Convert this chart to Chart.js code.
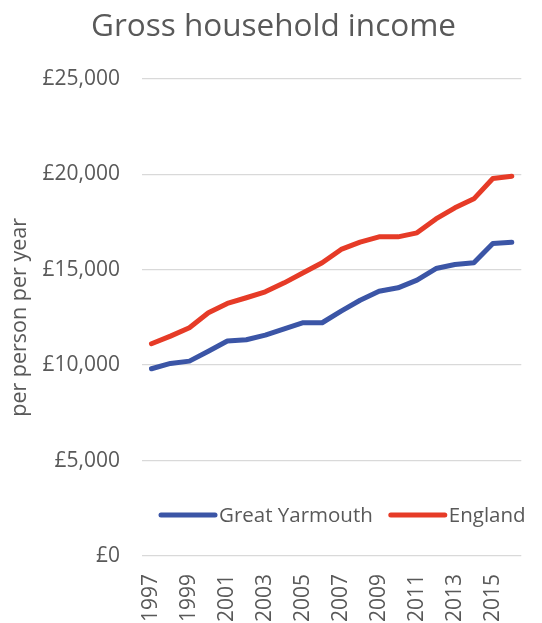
<!DOCTYPE html>
<html>
<head>
<meta charset="utf-8">
<script src="https://cdn.jsdelivr.net/npm/chart.js@4"></script>
<style>
  html, body { margin: 0; padding: 0; background: #fff; overflow: hidden; }
  #wrap { width: 547px; height: 623px; }
</style>
</head>
<body>
<div id="wrap"><canvas id="incomeChart"></canvas></div>
<script>
var years = ['1997', '1998', '1999', '2000', '2001', '2002', '2003', '2004', '2005', '2006',
             '2007', '2008', '2009', '2010', '2011', '2012', '2013', '2014', '2015', '2016'];
var greatYarmouth = [9810, 10090, 10210, 10730, 11260, 11330, 11570, 11900, 12220, 12220,
                     12830, 13400, 13870, 14050, 14450, 15060, 15270, 15360, 16370, 16440];
var england = [11120, 11520, 11960, 12740, 13230, 13530, 13840, 14310, 14840, 15360,
               16060, 16440, 16720, 16720, 16930, 17660, 18240, 18710, 19780, 19900];
var seriesNames = ['Great Yarmouth', 'England'];

var textColor = '#595959';
var fontFamily = "'Open Sans', sans-serif";

// legend sits inside the plot, like the Excel original
var insideLegend = {
    id: 'insideLegend',
    afterDraw: function(chart) {
        var c = chart.ctx;
        var x = 161, y = 515;
        c.save();
        c.font = '20.5px ' + fontFamily;
        c.textBaseline = 'middle';
        c.fillStyle = textColor;
        chart.data.datasets.forEach(function(ds) {
            c.strokeStyle = ds.borderColor;
            c.lineWidth = 5;
            c.lineCap = 'round';
            c.beginPath();
            c.moveTo(x, y);
            c.lineTo(x + 54, y);
            c.stroke();
            c.fillText(ds.label, x + 58, y + 1);
            x += 58 + c.measureText(ds.label).width + 18;
        });
        c.restore();
    }
};

var ctx = document.getElementById('incomeChart').getContext('2d');
var incomeChart = new Chart(ctx, {
    type: 'line',
    data: {
        labels: years,
        datasets: [{
            label: seriesNames[0],
            data: greatYarmouth,
            borderColor: '#3B55A6',
            backgroundColor: '#3B55A6',
            borderWidth: 5,
            pointRadius: 0,
            borderCapStyle: 'round',
            borderJoinStyle: 'round',
            tension: 0
        }, {
            label: seriesNames[1],
            data: england,
            borderColor: '#E63B27',
            backgroundColor: '#E63B27',
            borderWidth: 5,
            pointRadius: 0,
            borderCapStyle: 'round',
            borderJoinStyle: 'round',
            tension: 0
        }]
    },
    options: {
        responsive: true,
        maintainAspectRatio: false,
        animation: false,
        layout: { padding: 0 },
        scales: {
            x: {
                offset: true,
                grid: { display: false },
                border: { display: false },
                afterFit: function(s) { s.height = 67; },
                ticks: {
                    autoSkip: false,
                    maxRotation: 90,
                    minRotation: 90,
                    padding: 10,
                    color: textColor,
                    font: { family: fontFamily, size: 21 },
                    callback: function(val, i) {
                        return i % 2 === 0 ? this.getLabelForValue(val) : '';
                    }
                }
            },
            y: {
                min: 0,
                max: 25000,
                afterFit: function(s) { s.width = 142; },
                grid: { color: '#D9D9D9', lineWidth: 1.3, drawTicks: false },
                border: { display: false },
                ticks: {
                    stepSize: 5000,
                    padding: 22,
                    color: textColor,
                    font: { family: fontFamily, size: 21 },
                    callback: function(v) { return '£' + v.toLocaleString('en-GB'); }
                },
                title: {
                    display: true,
                    text: 'per person per year',
                    color: textColor,
                    font: { family: fontFamily, size: 21.5 },
                    padding: { top: 7, bottom: 0 }
                }
            }
        },
        plugins: {
            legend: { display: false },
            tooltip: { enabled: false },
            title: {
                display: true,
                text: 'Gross household income',
                color: textColor,
                font: { family: fontFamily, size: 31.5, weight: 'normal' },
                padding: { top: 8, bottom: 33 }
            }
        }
    },
    plugins: [insideLegend]
});
</script>
</body>
</html>
